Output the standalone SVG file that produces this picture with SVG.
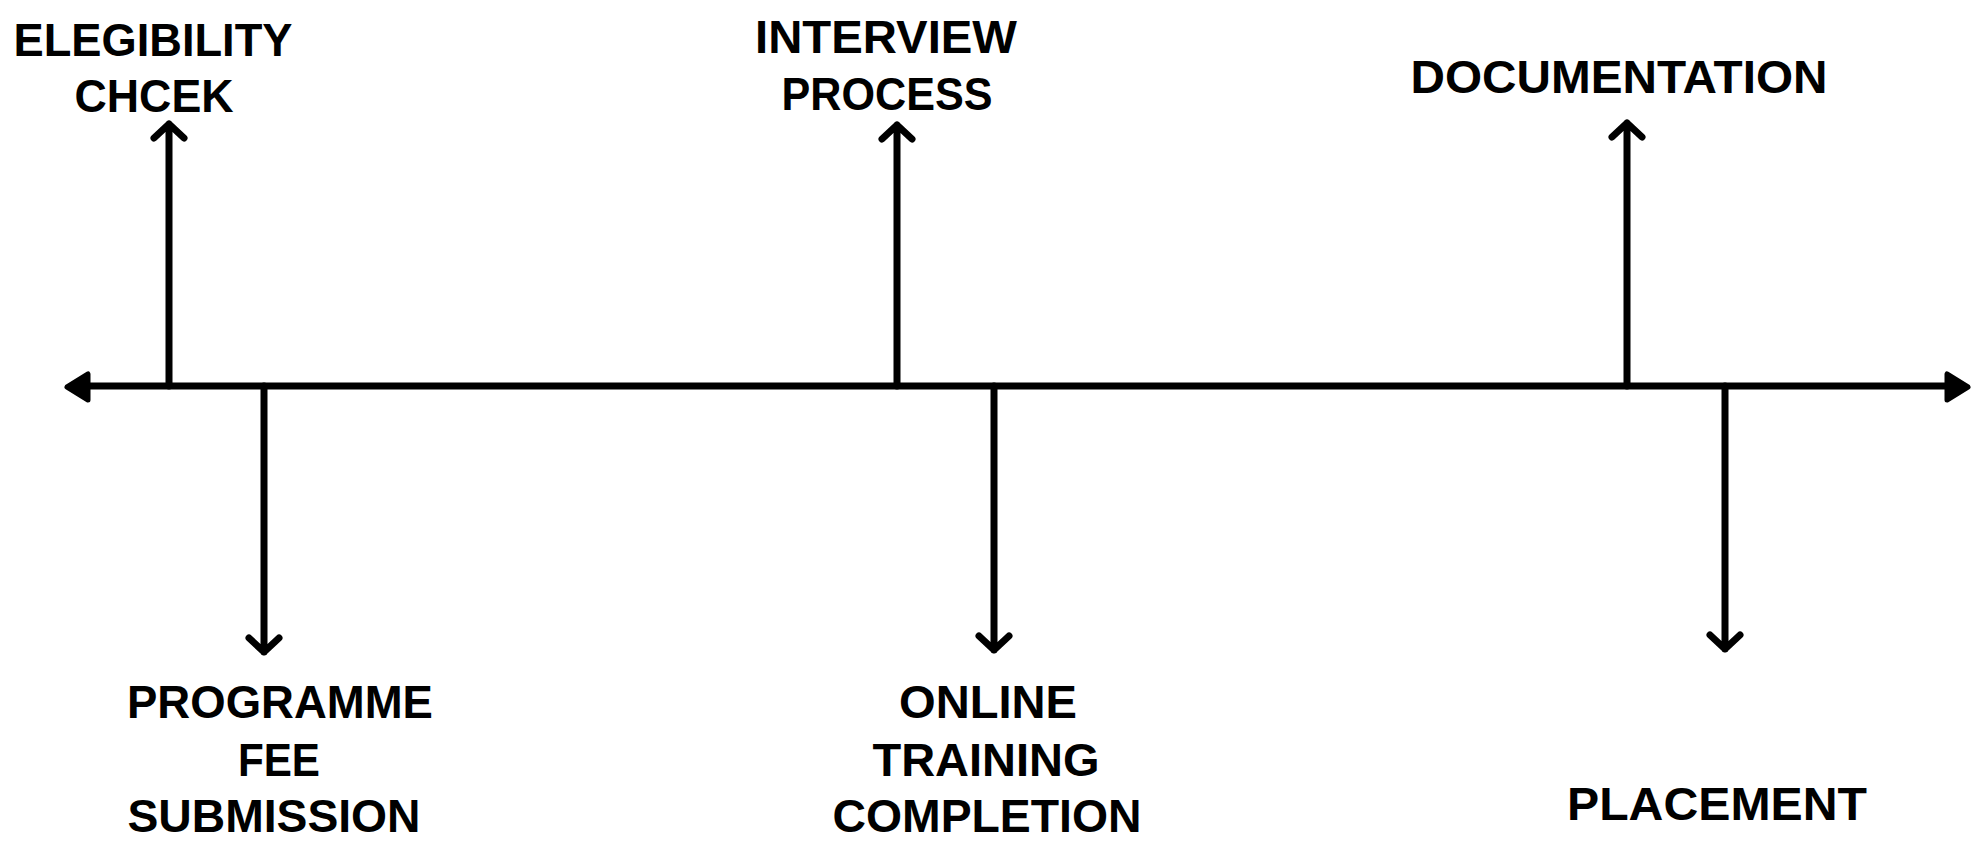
<svg xmlns="http://www.w3.org/2000/svg" width="1986" height="842" viewBox="0 0 1986 842">
<style>
.lbl{font-family:"Liberation Sans","Open Sans",sans-serif;font-weight:700;font-size:46px;fill:#000;text-anchor:middle}
.ln{stroke:#000;stroke-width:7;fill:none;stroke-linecap:round;stroke-linejoin:round}
.head{fill:#000;stroke:#000;stroke-width:5;stroke-linejoin:round}
</style>
<rect width="1986" height="842" fill="#fff"/>
<g id="connectors">
<line class="ln" x1="75" y1="386" x2="1955" y2="386"/>
<polygon class="head" points="67,387 88,374 88,400"/>
<polygon class="head" points="1968,387 1947,374 1947,400"/>
<path class="ln" d="M169 386V124M154 138L169 124L184 138"/>
<path class="ln" d="M897 386V125M882 139L897 125L912 139"/>
<path class="ln" d="M1627 386V123M1612 137L1627 123L1642 137"/>
<path class="ln" d="M264 386V652M249 638L264 652L279 638"/>
<path class="ln" d="M994 386V650M979 636L994 650L1009 636"/>
<path class="ln" d="M1725 386V649M1710 635L1725 649L1740 635"/>
</g>
<g id="n1"><text class="lbl" x="153" y="56" textLength="279" lengthAdjust="spacingAndGlyphs">ELEGIBILITY</text><text class="lbl" x="154" y="112" textLength="159" lengthAdjust="spacingAndGlyphs">CHCEK</text></g>
<g id="n2"><text class="lbl" x="280" y="718" textLength="306" lengthAdjust="spacingAndGlyphs">PROGRAMME</text><text class="lbl" x="279" y="776" textLength="82" lengthAdjust="spacingAndGlyphs">FEE</text><text class="lbl" x="274" y="832" textLength="293" lengthAdjust="spacingAndGlyphs">SUBMISSION</text></g>
<g id="n3"><text class="lbl" x="886" y="53" textLength="262" lengthAdjust="spacingAndGlyphs">INTERVIEW</text><text class="lbl" x="887" y="110" textLength="211" lengthAdjust="spacingAndGlyphs">PROCESS</text></g>
<g id="n4"><text class="lbl" x="988" y="718" textLength="178" lengthAdjust="spacingAndGlyphs">ONLINE</text><text class="lbl" x="986" y="776" textLength="227" lengthAdjust="spacingAndGlyphs">TRAINING</text><text class="lbl" x="987" y="832" textLength="309" lengthAdjust="spacingAndGlyphs">COMPLETION</text></g>
<g id="n5"><text class="lbl" x="1619" y="93" textLength="417" lengthAdjust="spacingAndGlyphs">DOCUMENTATION</text></g>
<g id="n6"><text class="lbl" x="1717" y="820" textLength="300" lengthAdjust="spacingAndGlyphs">PLACEMENT</text></g>
</svg>
